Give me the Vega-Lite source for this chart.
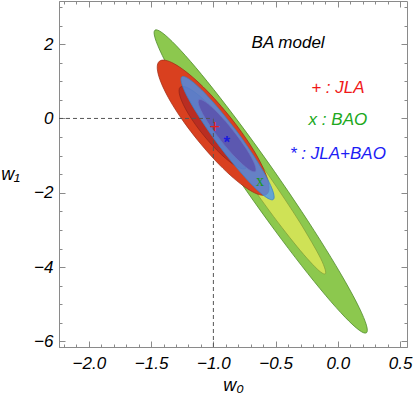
{
  "$schema": "https://vega.github.io/schema/vega-lite/v6.json",
  "width": 348,
  "height": 346,
  "autosize": {"type": "none"},
  "padding": {"left": 59, "top": 1, "right": 6, "bottom": 51},
  "background": "white",
  "config": {
    "view": {"stroke": "#8a8a8a", "strokeWidth": 1},
    "axis": {"domainColor": "#8a8a8a", "tickColor": "#8a8a8a", "labelColor": "#000000", "labelFont": "Liberation Sans", "labelFontStyle": "italic", "labelFontSize": 17, "titleFont": "Liberation Sans", "titleFontStyle": "italic", "titleFontWeight": "normal", "titleFontSize": 18, "titleColor": "#000000", "grid": false}
  },
  "datasets": {
    "bao2": [
      {"i":0,"w0":0.229,"w1":-5.768},{"i":1,"w0":0.229,"w1":-5.562},{"i":2,"w0":0.171,"w1":-5.091},{"i":3,"w0":0.059,"w1":-4.390},
      {"i":4,"w0":-0.099,"w1":-3.505},{"i":5,"w0":-0.292,"w1":-2.498},{"i":6,"w0":-0.508,"w1":-1.434},{"i":7,"w0":-0.732,"w1":-0.388},
      {"i":8,"w0":-0.948,"w1":0.567},{"i":9,"w0":-1.141,"w1":1.368},{"i":10,"w0":-1.299,"w1":1.961},{"i":11,"w0":-1.411,"w1":2.306},
      {"i":12,"w0":-1.469,"w1":2.376},{"i":13,"w0":-1.469,"w1":2.170},{"i":14,"w0":-1.411,"w1":1.699},{"i":15,"w0":-1.299,"w1":0.998},
      {"i":16,"w0":-1.141,"w1":0.113},{"i":17,"w0":-0.948,"w1":-0.894},{"i":18,"w0":-0.732,"w1":-1.958},{"i":19,"w0":-0.508,"w1":-3.004},
      {"i":20,"w0":-0.292,"w1":-3.959},{"i":21,"w0":-0.099,"w1":-4.760},{"i":22,"w0":0.059,"w1":-5.353},{"i":23,"w0":0.171,"w1":-5.698}
    ],
    "bao1": [
      {"i":0,"w0":-0.102,"w1":-4.180},{"i":1,"w0":-0.103,"w1":-4.056},{"i":2,"w0":-0.138,"w1":-3.770},{"i":3,"w0":-0.208,"w1":-3.343},
      {"i":4,"w0":-0.304,"w1":-2.805},{"i":5,"w0":-0.423,"w1":-2.190},{"i":6,"w0":-0.554,"w1":-1.542},{"i":7,"w0":-0.691,"w1":-0.904},
      {"i":8,"w0":-0.822,"w1":-0.321},{"i":9,"w0":-0.940,"w1":0.169},{"i":10,"w0":-1.036,"w1":0.532},{"i":11,"w0":-1.103,"w1":0.744},
      {"i":12,"w0":-1.138,"w1":0.788},{"i":13,"w0":-1.137,"w1":0.664},{"i":14,"w0":-1.102,"w1":0.378},{"i":15,"w0":-1.032,"w1":-0.049},
      {"i":16,"w0":-0.936,"w1":-0.587},{"i":17,"w0":-0.818,"w1":-1.202},{"i":18,"w0":-0.686,"w1":-1.850},{"i":19,"w0":-0.550,"w1":-2.488},
      {"i":20,"w0":-0.418,"w1":-3.071},{"i":21,"w0":-0.300,"w1":-3.561},{"i":22,"w0":-0.204,"w1":-3.924},{"i":23,"w0":-0.137,"w1":-4.136}
    ],
    "jla2": [
      {"i":0,"w0":-0.570,"w1":-2.035},{"i":1,"w0":-0.553,"w1":-1.886},{"i":2,"w0":-0.566,"w1":-1.626},{"i":3,"w0":-0.609,"w1":-1.271},
      {"i":4,"w0":-0.678,"w1":-0.848},{"i":5,"w0":-0.770,"w1":-0.383},{"i":6,"w0":-0.878,"w1":0.091},{"i":7,"w0":-0.994,"w1":0.543},
      {"i":8,"w0":-1.110,"w1":0.940},{"i":9,"w0":-1.219,"w1":1.255},{"i":10,"w0":-1.314,"w1":1.470},{"i":11,"w0":-1.387,"w1":1.566},
      {"i":12,"w0":-1.434,"w1":1.539},{"i":13,"w0":-1.451,"w1":1.390},{"i":14,"w0":-1.438,"w1":1.130},{"i":15,"w0":-1.395,"w1":0.775},
      {"i":16,"w0":-1.326,"w1":0.352},{"i":17,"w0":-1.234,"w1":-0.113},{"i":18,"w0":-1.126,"w1":-0.587},{"i":19,"w0":-1.010,"w1":-1.039},
      {"i":20,"w0":-0.894,"w1":-1.436},{"i":21,"w0":-0.785,"w1":-1.751},{"i":22,"w0":-0.690,"w1":-1.966},{"i":23,"w0":-0.617,"w1":-2.062}
    ],
    "jla1": [
      {"i":0,"w0":-0.739,"w1":-1.338},{"i":1,"w0":-0.728,"w1":-1.247},{"i":2,"w0":-0.736,"w1":-1.089},{"i":3,"w0":-0.762,"w1":-0.873},
      {"i":4,"w0":-0.804,"w1":-0.614},{"i":5,"w0":-0.861,"w1":-0.330},{"i":6,"w0":-0.926,"w1":-0.041},{"i":7,"w0":-0.997,"w1":0.234},
      {"i":8,"w0":-1.068,"w1":0.476},{"i":9,"w0":-1.135,"w1":0.669},{"i":10,"w0":-1.192,"w1":0.800},{"i":11,"w0":-1.237,"w1":0.859},
      {"i":12,"w0":-1.266,"w1":0.842},{"i":13,"w0":-1.276,"w1":0.751},{"i":14,"w0":-1.268,"w1":0.593},{"i":15,"w0":-1.242,"w1":0.377},
      {"i":16,"w0":-1.200,"w1":0.118},{"i":17,"w0":-1.144,"w1":-0.166},{"i":18,"w0":-1.078,"w1":-0.455},{"i":19,"w0":-1.007,"w1":-0.730},
      {"i":20,"w0":-0.936,"w1":-0.972},{"i":21,"w0":-0.869,"w1":-1.165},{"i":22,"w0":-0.812,"w1":-1.296},{"i":23,"w0":-0.767,"w1":-1.355}
    ],
    "both2": [
      {"i":0,"w0":-0.519,"w1":-2.180},{"i":1,"w0":-0.513,"w1":-2.077},{"i":2,"w0":-0.532,"w1":-1.868},{"i":3,"w0":-0.575,"w1":-1.568},
      {"i":4,"w0":-0.640,"w1":-1.197},{"i":5,"w0":-0.721,"w1":-0.781},{"i":6,"w0":-0.813,"w1":-0.348},{"i":7,"w0":-0.911,"w1":0.073},
      {"i":8,"w0":-1.007,"w1":0.453},{"i":9,"w0":-1.094,"w1":0.766},{"i":10,"w0":-1.168,"w1":0.990},{"i":11,"w0":-1.222,"w1":1.111},
      {"i":12,"w0":-1.253,"w1":1.120},{"i":13,"w0":-1.259,"w1":1.017},{"i":14,"w0":-1.240,"w1":0.808},{"i":15,"w0":-1.197,"w1":0.508},
      {"i":16,"w0":-1.132,"w1":0.137},{"i":17,"w0":-1.051,"w1":-0.279},{"i":18,"w0":-0.959,"w1":-0.712},{"i":19,"w0":-0.861,"w1":-1.133},
      {"i":20,"w0":-0.765,"w1":-1.513},{"i":21,"w0":-0.678,"w1":-1.826},{"i":22,"w0":-0.605,"w1":-2.050},{"i":23,"w0":-0.550,"w1":-2.171}
    ],
    "both1": [
      {"i":0,"w0":-0.663,"w1":-1.427},{"i":1,"w0":-0.658,"w1":-1.359},{"i":2,"w0":-0.668,"w1":-1.231},{"i":3,"w0":-0.694,"w1":-1.051},
      {"i":4,"w0":-0.733,"w1":-0.829},{"i":5,"w0":-0.783,"w1":-0.584},{"i":6,"w0":-0.840,"w1":-0.330},{"i":7,"w0":-0.900,"w1":-0.084},
      {"i":8,"w0":-0.960,"w1":0.135},{"i":9,"w0":-1.015,"w1":0.313},{"i":10,"w0":-1.061,"w1":0.439},{"i":11,"w0":-1.096,"w1":0.503},
      {"i":12,"w0":-1.117,"w1":0.501},{"i":13,"w0":-1.122,"w1":0.433},{"i":14,"w0":-1.112,"w1":0.305},{"i":15,"w0":-1.086,"w1":0.125},
      {"i":16,"w0":-1.047,"w1":-0.097},{"i":17,"w0":-0.997,"w1":-0.342},{"i":18,"w0":-0.940,"w1":-0.597},{"i":19,"w0":-0.880,"w1":-0.842},
      {"i":20,"w0":-0.820,"w1":-1.061},{"i":21,"w0":-0.765,"w1":-1.239},{"i":22,"w0":-0.719,"w1":-1.365},{"i":23,"w0":-0.684,"w1":-1.429}
    ]
  },
  "resolve": {"axis": {"x": "independent", "y": "independent"}},
  "layer": [
    {
      "data": {"name": "bao2"},
      "mark": {"type": "line", "interpolate": "cardinal-closed", "fill": "#8cc84e", "stroke": "#4f8a2c", "strokeWidth": 0.8},
      "encoding": {
        "x": {"field": "w0", "type": "quantitative", "scale": {"domain": [-2.24, 0.555], "nice": false, "zero": false},
          "axis": {"orient": "bottom", "title": "w₀", "values": [-2.2,-2.1,-2.0,-1.9,-1.8,-1.7,-1.6,-1.5,-1.4,-1.3,-1.2,-1.1,-1.0,-0.9,-0.8,-0.7,-0.6,-0.5,-0.4,-0.3,-0.2,-0.1,0,0.1,0.2,0.3,0.4,0.5],
            "labelExpr": "abs(datum.value*2-round(datum.value*2))<0.001 ? format(datum.value,'.1f') : ''",
            "tickSize": {"condition": {"test": "abs(datum.value*2-round(datum.value*2))<0.001", "value": -6}, "value": -3},
            "labelPadding": 14, "labelFlush": false, "labelOverlap": false, "titleY": 43, "titleBaseline": "alphabetic"}},
        "y": {"field": "w1", "type": "quantitative", "scale": {"domain": [-6.15, 3.16], "nice": false, "zero": false},
          "axis": {"orient": "left", "title": "w₁", "values": [-6,-5.5,-5,-4.5,-4,-3.5,-3,-2.5,-2,-1.5,-1,-0.5,0,0.5,1,1.5,2,2.5,3],
            "labelExpr": "abs(datum.value/2-round(datum.value/2))<0.001 ? format(datum.value,'d') : ''",
            "tickSize": {"condition": {"test": "abs(datum.value/2-round(datum.value/2))<0.001", "value": -6}, "value": -3},
            "labelPadding": 12, "labelFlush": false, "labelOverlap": false,
            "titleAngle": 0, "titleX": -49, "titleY": 178, "titleAlign": "center", "titleBaseline": "alphabetic"}},
        "order": {"field": "i", "type": "quantitative"}
      }
    },
    {
      "data": {"name": "bao1"},
      "mark": {"type": "line", "interpolate": "cardinal-closed", "fill": "#cfe256", "stroke": "#7f9b36", "strokeWidth": 0.7},
      "encoding": {
        "x": {"field": "w0", "type": "quantitative", "axis": null},
        "y": {"field": "w1", "type": "quantitative", "axis": null},
        "order": {"field": "i", "type": "quantitative"}
      }
    },
    {
      "data": {"name": "jla2"},
      "mark": {"type": "line", "interpolate": "cardinal-closed", "fill": "#d9401f", "stroke": "#9c2a14", "strokeWidth": 0.7},
      "encoding": {
        "x": {"field": "w0", "type": "quantitative", "axis": null},
        "y": {"field": "w1", "type": "quantitative", "axis": null},
        "order": {"field": "i", "type": "quantitative"}
      }
    },
    {
      "data": {"name": "jla1"},
      "mark": {"type": "line", "interpolate": "cardinal-closed", "fill": "#b92d22", "stroke": "#8e2418", "strokeWidth": 0.7},
      "encoding": {
        "x": {"field": "w0", "type": "quantitative", "axis": null},
        "y": {"field": "w1", "type": "quantitative", "axis": null},
        "order": {"field": "i", "type": "quantitative"}
      }
    },
    {
      "data": {"name": "both2"},
      "mark": {"type": "line", "interpolate": "cardinal-closed", "fill": "#4494f5", "fillOpacity": 0.78, "stroke": "#3a82c8", "strokeWidth": 0.8},
      "encoding": {
        "x": {"field": "w0", "type": "quantitative", "axis": null},
        "y": {"field": "w1", "type": "quantitative", "axis": null},
        "order": {"field": "i", "type": "quantitative"}
      }
    },
    {
      "data": {"name": "both1"},
      "mark": {"type": "line", "interpolate": "cardinal-closed", "fill": "#5c58b0", "stroke": "#6d74c2", "strokeWidth": 0.7},
      "encoding": {
        "x": {"field": "w0", "type": "quantitative", "axis": null},
        "y": {"field": "w1", "type": "quantitative", "axis": null},
        "order": {"field": "i", "type": "quantitative"}
      }
    },
    {
      "data": {"values": [{"a": -2.24, "b": -1.0, "c": 0}]},
      "mark": {"type": "rule", "color": "#555555", "strokeDash": [4, 3], "strokeWidth": 1},
      "encoding": {
        "x": {"field": "a", "type": "quantitative", "axis": null},
        "x2": {"field": "b"},
        "y": {"field": "c", "type": "quantitative", "axis": null}
      }
    },
    {
      "data": {"values": [{"a": -1.0, "b": -6.15, "c": 0}]},
      "mark": {"type": "rule", "color": "#555555", "strokeDash": [4, 3], "strokeWidth": 1},
      "encoding": {
        "x": {"field": "a", "type": "quantitative", "axis": null},
        "y": {"field": "b", "type": "quantitative", "axis": null},
        "y2": {"field": "c"}
      }
    },
    {
      "data": {"values": [{"t": "+", "w0": -0.99, "w1": -0.226}]},
      "mark": {"type": "text", "color": "#e4201c", "font": "Liberation Sans", "fontSize": 18, "baseline": "middle", "align": "center", "dy": 1},
      "encoding": {
        "x": {"field": "w0", "type": "quantitative", "axis": null},
        "y": {"field": "w1", "type": "quantitative", "axis": null},
        "text": {"field": "t"}
      }
    },
    {
      "data": {"values": [{"t": "*", "w0": -0.893, "w1": -0.566}]},
      "mark": {"type": "text", "color": "#1a1ae0", "font": "Liberation Sans", "fontSize": 17, "fontWeight": "bold", "baseline": "middle", "align": "center", "dy": 4},
      "encoding": {
        "x": {"field": "w0", "type": "quantitative", "axis": null},
        "y": {"field": "w1", "type": "quantitative", "axis": null},
        "text": {"field": "t"}
      }
    },
    {
      "data": {"values": [{"t": "x", "w0": -0.625, "w1": -1.70}]},
      "mark": {"type": "text", "color": "#1a9a1a", "font": "Liberation Serif", "fontSize": 16, "baseline": "middle", "align": "center", "dy": -1},
      "encoding": {
        "x": {"field": "w0", "type": "quantitative", "axis": null},
        "y": {"field": "w1", "type": "quantitative", "axis": null},
        "text": {"field": "t"}
      }
    },
    {
      "data": {"values": [{"t": "BA model", "w0": -0.40, "w1": 2.03}]},
      "mark": {"type": "text", "color": "#000000", "font": "Liberation Sans", "fontStyle": "italic", "fontSize": 17, "baseline": "middle", "align": "center"},
      "encoding": {
        "x": {"field": "w0", "type": "quantitative", "scale": {"domain": [-2.24, 0.555], "nice": false, "zero": false},
          "axis": {"orient": "top", "title": null, "labels": false, "domain": false, "values": [-2.2,-2.1,-2.0,-1.9,-1.8,-1.7,-1.6,-1.5,-1.4,-1.3,-1.2,-1.1,-1.0,-0.9,-0.8,-0.7,-0.6,-0.5,-0.4,-0.3,-0.2,-0.1,0,0.1,0.2,0.3,0.4,0.5],
            "tickSize": {"condition": {"test": "abs(datum.value*2-round(datum.value*2))<0.001", "value": -6}, "value": -3}}},
        "y": {"field": "w1", "type": "quantitative", "scale": {"domain": [-6.15, 3.16], "nice": false, "zero": false},
          "axis": {"orient": "right", "title": null, "labels": false, "domain": false, "values": [-6,-5.5,-5,-4.5,-4,-3.5,-3,-2.5,-2,-1.5,-1,-0.5,0,0.5,1,1.5,2,2.5,3],
            "tickSize": {"condition": {"test": "abs(datum.value/2-round(datum.value/2))<0.001", "value": -6}, "value": -3}}},
        "text": {"field": "t"}
      }
    },
    {
      "data": {"values": [{"t": "+ : JLA", "w0": 0.0, "w1": 0.82}]},
      "mark": {"type": "text", "color": "#f01818", "font": "Liberation Sans", "fontStyle": "italic", "fontSize": 17, "baseline": "middle", "align": "center"},
      "encoding": {
        "x": {"field": "w0", "type": "quantitative", "axis": null},
        "y": {"field": "w1", "type": "quantitative", "axis": null},
        "text": {"field": "t"}
      }
    },
    {
      "data": {"values": [{"t": "x : BAO", "w0": 0.0, "w1": -0.05}]},
      "mark": {"type": "text", "color": "#20a820", "font": "Liberation Sans", "fontStyle": "italic", "fontSize": 17, "baseline": "middle", "align": "center"},
      "encoding": {
        "x": {"field": "w0", "type": "quantitative", "axis": null},
        "y": {"field": "w1", "type": "quantitative", "axis": null},
        "text": {"field": "t"}
      }
    },
    {
      "data": {"values": [{"t": "* : JLA+BAO", "w0": 0.0, "w1": -0.97}]},
      "mark": {"type": "text", "color": "#1c1cf5", "font": "Liberation Sans", "fontStyle": "italic", "fontSize": 17, "baseline": "middle", "align": "center"},
      "encoding": {
        "x": {"field": "w0", "type": "quantitative", "axis": null},
        "y": {"field": "w1", "type": "quantitative", "axis": null},
        "text": {"field": "t"}
      }
    }
  ]
}
